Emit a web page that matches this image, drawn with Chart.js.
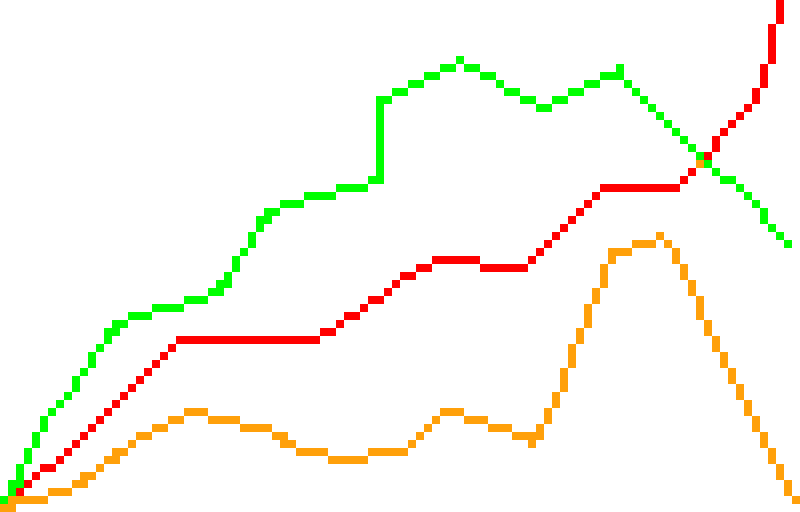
<!DOCTYPE html>
<html>
<head>
<meta charset="utf-8">
<script src="https://cdn.jsdelivr.net/npm/chart.js@4.4.1/dist/chart.umd.min.js"></script>
<style>
  html, body { margin: 0; padding: 0; background: #ffffff; overflow: hidden; }
  #wrap { width: 800px; height: 512px; position: relative; }
  /* the chart is drawn on a 100x64 grid and blown up 8x, pixel by pixel */
  #myChart { position: absolute; left: 0; top: 0; transform: scale(8); transform-origin: 0 0; image-rendering: pixelated; }
</style>
</head>
<body>
<div id="wrap"><canvas id="myChart" width="100" height="64"></canvas></div>
<script>
// Values (x = column 0..99, value = height 0..63)
var greenX = [0, 5, 8, 14, 16, 21, 25, 27, 33, 35, 40, 44, 47, 47, 48, 50, 52, 54, 56, 57, 59, 61, 62, 64, 66, 67.5, 70, 72, 74, 76, 77, 78, 89, 91, 95, 96, 99];
var greenV = [0, 10.5, 14, 22.5, 24, 25, 26, 27, 36.5, 38, 39, 40, 41, 51, 51, 52, 53, 54, 55, 56, 55, 54, 53, 52, 51, 50, 51, 52, 53, 54, 55, 53, 42, 41, 37, 35.5, 32];

var redX = [0, 4, 6, 21, 22, 39, 41, 42, 44, 45, 47, 49, 51, 53, 54, 59, 60, 65, 66, 74, 75, 84, 88, 89, 94, 95, 96, 97, 98];
var redV = [0, 4, 5, 20, 21, 21, 22, 23, 24, 25, 26, 28, 29, 30, 31, 31, 30, 30, 31, 39, 40, 40, 44, 45.5, 51, 53, 57.5, 62, 67];

var orangeX = [0, 1, 3.5, 7, 9.5, 12, 13.5, 16, 17.5, 19.5, 21.5, 24, 28, 32, 34.5, 36, 38, 43, 48.5, 50, 54, 56, 59.5, 62.5, 64.5, 66, 67, 70, 72, 74, 76, 77.5, 80, 82.5, 84, 99];
var orangeV = [0, 0, 1, 2, 3, 5, 6, 8, 9, 10, 11, 12, 11, 10, 9, 8, 7, 6, 7, 7, 11, 12, 11, 10, 9, 8, 9.5, 15.5, 21, 26, 31.5, 32, 33, 34, 31.5, 0.5];

var lineColors = [[0, 255, 0], [255, 0, 0], [255, 160, 10]];

function toPoints(xs, vs) {
    var pts = [];
    for (var i = 0; i < xs.length; i++) {
        pts.push({ x: xs[i], y: vs[i] });
    }
    return pts;
}

function rgb(c) {
    return "rgb(" + c[0] + ", " + c[1] + ", " + c[2] + ")";
}

// Snap every pixel to fully on / fully off so the lines come out blocky.
// Strong pixels stay; weaker ones stay only if they are the peak across
// their row or column (keeps shallow and steep lines unbroken).
var crispPlugin = {
    id: "crisp",
    afterDraw: function(chart) {
        var c = chart.ctx;
        var w = chart.canvas.width, h = chart.canvas.height;
        var img = c.getImageData(0, 0, w, h);
        var d = img.data;
        var a = new Float32Array(w * h);
        for (var i = 0; i < w * h; i++) a[i] = d[i * 4 + 3] / 255;
        function at(x, y) {
            if (x < 0 || y < 0 || x >= w || y >= h) return 0;
            return a[y * w + x];
        }
        for (var y = 0; y < h; y++) {
            for (var x = 0; x < w; x++) {
                var k = (y * w + x) * 4;
                var v = a[y * w + x];
                var on = false;
                if (v >= 0.62) {
                    on = true;
                } else if (v >= 0.35) {
                    var colPeak = v >= at(x, y - 1) && v >= at(x, y + 1);
                    var rowPeak = v >= at(x - 1, y) && v >= at(x + 1, y);
                    on = colPeak || rowPeak;
                }
                if (on) {
                    // nearest line colour, no blended shades
                    var best = lineColors[0], bestD = Infinity;
                    for (var j = 0; j < lineColors.length; j++) {
                        var lc = lineColors[j];
                        var dd = Math.pow(d[k] - lc[0], 2) + Math.pow(d[k + 1] - lc[1], 2) + Math.pow(d[k + 2] - lc[2], 2);
                        if (dd < bestD) { bestD = dd; best = lc; }
                    }
                    d[k] = best[0]; d[k + 1] = best[1]; d[k + 2] = best[2];
                }
                d[k + 3] = on ? 255 : 0;
            }
        }
        c.putImageData(img, 0, 0);
    }
};

var ctx = document.getElementById("myChart").getContext("2d");
var chart = new Chart(ctx, {
    type: "line",
    data: {
        datasets: [
            { label: "green", data: toPoints(greenX, greenV), borderColor: rgb(lineColors[0]) },
            { label: "red", data: toPoints(redX, redV), borderColor: rgb(lineColors[1]) },
            { label: "orange", data: toPoints(orangeX, orangeV), borderColor: rgb(lineColors[2]) }
        ]
    },
    options: {
        responsive: false,
        devicePixelRatio: 1,
        animation: false,
        events: [],
        layout: { padding: 0 },
        elements: {
            line: { borderWidth: 1.1, tension: 0, fill: false },
            point: { radius: 0, hoverRadius: 0 }
        },
        plugins: {
            legend: { display: false },
            tooltip: { enabled: false }
        },
        scales: {
            // slight left bias so steep steps pick the same pixel side as the picture
            x: { type: "linear", min: -0.35, max: 99.65, display: false },
            y: { type: "linear", min: -0.5, max: 63.5, display: false }
        }
    },
    plugins: [crispPlugin]
});
</script>
</body>
</html>
